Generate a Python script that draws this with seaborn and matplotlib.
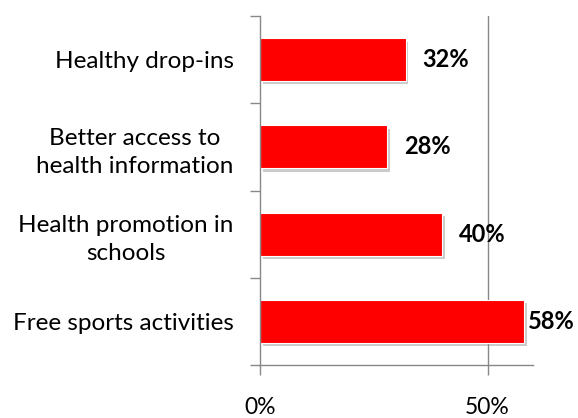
import matplotlib
matplotlib.use("Agg")
import matplotlib.pyplot as plt
import matplotlib.patheffects as pe
import seaborn as sns
import pandas as pd

# data
categories = ["Healthy drop-ins", "Better access to\nhealth information",
              "Health promotion in\nschools", "Free sports activities"]
values = [32, 28, 40, 58]
tick_vals = [0, 50]
tick_labels = ["0%", "50%"]

df = pd.DataFrame({"category": categories, "value": values})

sns.set_style("white")
plt.rcParams['font.family'] = ['Lato', 'DejaVu Sans']

fig = plt.figure(figsize=(5.78, 4.18), dpi=100)
ax = fig.add_axes([260/578, 1 - 365/418, (533 - 260)/578, (365 - 16)/418])

sns.barplot(data=df, x="value", y="category", orient="h", color="#ff0000",
            saturation=1, width=0.49, edgecolor="white", linewidth=0.8, ax=ax)

for bar in ax.patches:
    bar.set_path_effects([pe.SimplePatchShadow(offset=(2, -2.5), shadow_rgbFace="#999999", alpha=0.5),
                          pe.Normal()])

for bar, v in zip(ax.patches, values):
    pad = 12 if v < 55 else 3
    ax.annotate(f"{v}%", (bar.get_width(), bar.get_y() + bar.get_height()/2),
                xytext=(pad, 0), textcoords="offset points", va="center", ha="left",
                fontsize=17, fontweight="bold", color="black", annotation_clip=False)

ax.set_xlim(0, 60)
ax.set_ylim(3.5, -0.5)
ax.set_xticks(tick_vals)
ax.set_xticklabels(tick_labels, fontsize=16.5)
ax.set_yticks([-0.5, 0.5, 1.5, 2.5, 3.5], minor=False)
ax.set_yticklabels([])
ax.set_yticks(range(len(categories)), minor=True)
ax.set_yticklabels(categories, minor=True, fontsize=17.5, ha="right",
                   multialignment="center", linespacing=1.4, color="black")
ax.tick_params(axis="y", which="minor", left=False, length=0, pad=19)
ax.tick_params(axis="y", which="major", left=True, length=7, color="#888888", direction="out", width=1)
ax.tick_params(axis="x", bottom=True, length=7, color="#888888", direction="out", width=1,
               pad=16, labelcolor="black")
ax.set_xlabel("")
ax.set_ylabel("")

ax.axvline(50, color="#888888", lw=1, zorder=0)
for s in ["top", "right"]:
    ax.spines[s].set_visible(False)
for s in ["left", "bottom"]:
    ax.spines[s].set_color("#888888")
    ax.spines[s].set_linewidth(1)

fig.savefig("out.png", dpi=100)
